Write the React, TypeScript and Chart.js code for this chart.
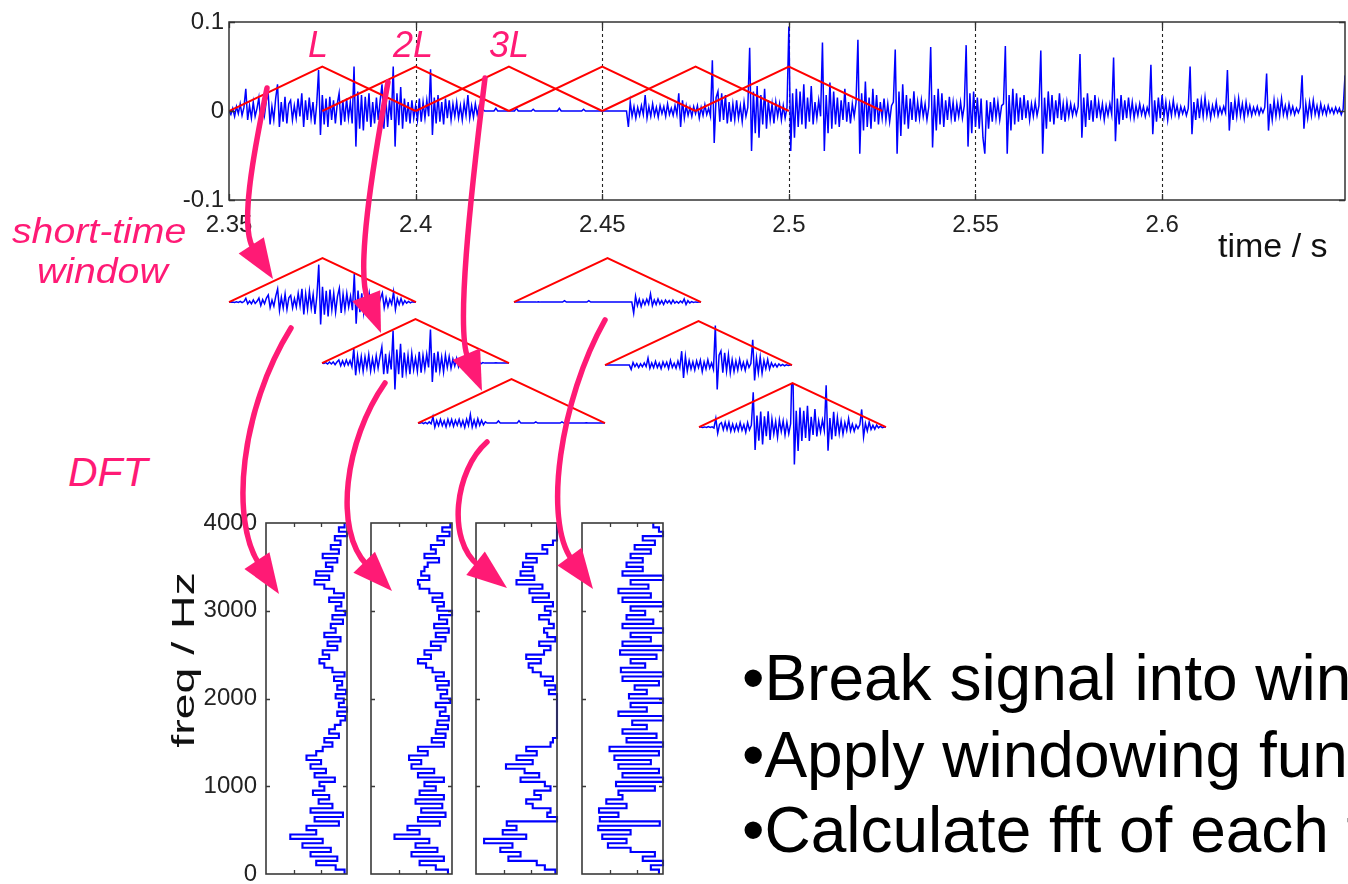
import React, { useEffect, useRef } from 'react';
import { Chart, registerables } from 'chart.js';

Chart.register(...registerables);

const FONT = '"Liberation Sans", Arial, Helvetica, sans-serif';
const BLUE = '#0000ff';
const RED = '#ff0000';
const PINK = '#ff1a75';

// ---------------- data ----------------
const SAMPLE_STEP = 0.0005; // s
// waveform, in thousandths of full scale, three stretches
const voicedStart = 2.35;
const voicedMilli = [
  0, -4, 3, -6, 5, -3, 8, -5, 4, 25,
  -10, 6, -8, 10, -6, 3, 15, -12, 8, -5,
  12, 20, -15, 5, -10, 14, 30, -18, 10, -12,
  16, -14, 8, 12, -10, 6, -8, 14, -6, 20,
  -18, 12, -10, 15, -8, 10, -15, 8, 46, -27,
  18, -15, 14, -18, 16, -10, 12, -14, 8, 20,
  -16, 12, -12, 14, -8, 10, -14, 50, -40, 22,
  -20, 18, -22, 16, -12, 20, -18, 10, -14, 15,
  -10, 12, 30, -20, 16, -18, 12, -10, 50, -40,
  20, -16, 27, -20, 14, -12, 10, -14, 12, -8,
  6, -10, 14, -12, 10, -8, 12, -6, 47, -27,
  15, -14, 18, -12, 10, -15, 14, -8, 12, -10,
  8, -6, 10, -8, 6, -10, 9, -5, 18, -8,
  6, -7, 8, -4, 5, -3, 2,
];
const silenceStart = 2.4185;
const silenceMilli = [
  0, 0, 0, 0, 0, 0, 3, 0, 0, 0,
  0, 0, 0, 0, 0, 0, 0, 3, 0, 0,
  0, 0, 0, 0, 0, 0, 2, 0, 0, 0,
  0, 0, 0, 0, 0, 0, 0, 0, 0, 0,
  3, 0, 0, 0, 0, 0, 0, 0, 0, 0,
  0, 0, 0, 2, 0, 0, 0, 0, 0, 0,
  0, 0, 0, 0, 0, 0, 0, 0, 0, 0,
  0, 0, 0, 0, 0, 0,
];
const vowelStart = 2.4565;
const vowelMilli = [
  0, -18, 10, -6, 5, -8, 4, -5, 6, -4,
  18, -8, 5, -6, 8, -5, 4, -7, 6, -3,
  5, -6, 8, -4, 3, -5, 6, -4, 20, -18,
  12, -8, 6, -5, 4, -6, 5, -3, 6, -8,
  4, -5, 7, -4, 3, -6, 57, -36, 15, 22,
  -12, 20, -10, 18, -14, 10, -12, 8, -10, 12,
  -8, 6, -12, 10, -6, 4, 71, -45, 22, -25,
  28, -30, 18, -15, 25, -20, 12, -10, 8, -14,
  10, -6, 8, -10, 6, -8, 4, 95, -45, 20,
  -30, 25, -18, 22, -15, 30, -20, 15, -12, 28,
  -15, 10, -8, 12, -6, 77, -45, 18, -25, 32,
  -20, 22, -15, 15, -18, 12, -10, 25, -12, 10,
  -14, 8, -6, 10, 80, -48, 20, -22, 33, -18,
  15, -20, 25, -12, 18, -15, 10, -8, 14, -10,
  8, -12, 6, 10, 69, -48, 22, -28, 30, -15,
  18, -20, 14, -10, 22, -12, 10, -8, 12, -6,
  8, -10, 5, 72, -41, 18, -22, 25, -15, 20,
  -18, 12, -10, 16, -8, 10, -12, 8, -6, 10,
  -8, 6, 74, -40, 20, -25, 22, -18, 15, -20,
  14, -30, -48, 12, -20, 10, -12, 15, -8, 10,
  -10, 6, 8, 73, -48, 18, -22, 25, -15, 20,
  -12, 15, -10, 18, -8, 12, -10, 8, -6, 10,
  -5, 6, 68, -48, 15, -20, 22, -12, 18, -15,
  12, -8, 20, -10, 8, -12, 10, -6, 8, -5,
  6, -4, 5, 64, -30, 15, -18, 20, -10, 12,
  -12, 18, -8, 10, -6, 8, -10, 6, -5, 8,
  -4, 60, -34, 14, -15, 18, -10, 12, -8, 15,
  -6, 10, -8, 6, -5, 8, -4, 5, -6, 4,
  -3, 52, -26, 12, -12, 15, -8, 18, -6, 10,
  -10, 8, -5, 12, -4, 6, -6, 5, -3, 4,
  -5, 3, 50, -26, 10, -10, 14, -8, 12, -6,
  15, -5, 8, -8, 6, -4, 10, -5, 4, -3,
  5, -2, 46, -22, 10, -10, 12, -6, 14, -5,
  8, -8, 10, -4, 6, -5, 4, -3, 5, -4,
  3, -2, 4, 42, -22, 8, -10, 12, -6, 10,
  -5, 14, -4, 6, -6, 8, -3, 5, -4, 3,
  -2, 4, 40, -20, 8, -8, 10, -5, 12, -4,
  6, -6, 8, -3, 5, -4, 6, -2, 3, -3,
  4, -2, 3, -4, 2, 40, -15, 5,
];

// short-time windows (triangular), starts in s
const windowStarts = [2.35, 2.375, 2.4, 2.425, 2.45, 2.475];
const windowLength = 0.05;
const windowLabels = ['L', '2L', '3L'];
const windowPeakTop = 0.05;
const windowPeakSegment = 0.052;

// axis ticks
const timeTicks = [2.35, 2.4, 2.45, 2.5, 2.55, 2.6];
const timeTickLabels = ['2.35', '2.4', '2.45', '2.5', '2.55', '2.6'];
const ampTicks = [-0.1, 0, 0.1];
const ampTickLabels = ['-0.1', '0', '0.1'];
const freqTicks = [0, 1000, 2000, 3000, 4000];
const freqTickLabels = ['0', '1000', '2000', '3000', '4000'];
const magnitudeTicks = [0.35, 0.68];

// DFT magnitude (normalised, 0 = left edge, 1 = right edge), 50 Hz bins from 0 Hz
const binWidthHz = 50;
const spectrum1 = [
  0.97, 0.86, 0.62, 0.88, 0.55, 0.8, 0.45, 0.7, 0.3, 0.62,
  0.5, 0.9, 0.6, 0.95, 0.55, 0.82, 0.65, 0.78, 0.58, 0.72,
  0.66, 0.85, 0.6, 0.74, 0.55, 0.68, 0.5, 0.62, 0.7, 0.82,
  0.72, 0.9, 0.78, 0.85, 0.92, 0.98, 0.88, 1.0, 0.9, 0.96,
  0.86, 0.99, 0.88, 0.94, 0.84, 0.97, 0.82, 0.72, 0.66, 0.78,
  0.7, 0.88, 0.76, 0.92, 0.72, 0.86, 0.8, 0.95, 0.82, 0.98,
  0.86, 0.93, 0.78, 0.96, 0.84, 0.72, 0.6, 0.78, 0.62, 0.82,
  0.74, 0.88, 0.7, 0.9, 0.8, 0.92, 0.85, 1.0, 0.9, 0.97,
];
const spectrum2 = [
  0.95, 0.8, 0.6, 0.9, 0.5, 0.82, 0.55, 0.72, 0.29, 0.6,
  0.45, 0.85, 0.58, 0.92, 0.62, 0.88, 0.55, 0.9, 0.6, 0.8,
  0.66, 0.9, 0.58, 0.78, 0.5, 0.62, 0.47, 0.7, 0.58, 0.9,
  0.75, 0.92, 0.8, 0.95, 0.82, 0.96, 0.85, 0.92, 0.8, 0.98,
  0.86, 0.94, 0.82, 0.96, 0.8, 0.9, 0.76, 0.68, 0.58, 0.74,
  0.66, 0.86, 0.74, 0.92, 0.8, 0.96, 0.78, 0.94, 0.84, 1.0,
  0.82, 0.9, 0.76, 0.88, 0.72, 0.6, 0.58, 0.72, 0.62, 0.66,
  0.7, 0.84, 0.66, 0.8, 0.74, 0.9, 0.82, 0.97, 0.88, 0.98,
];
const spectrum3 = [
  0.98, 0.85, 0.75, 0.4, 0.55, 0.3, 0.45, 0.1, 0.62, 0.33,
  0.5, 0.38, 1.0, 0.88, 0.92, 0.7, 0.62, 0.8, 0.72, 0.92,
  0.85, 0.55, 0.78, 0.6, 0.37, 0.7, 0.5, 0.75, 0.62, 0.92,
  0.95, 1.0, 1.0, 1.0, 1.0, 1.0, 1.0, 1.0, 1.0, 1.0,
  1.0, 0.9, 0.98, 0.85, 0.95, 0.8, 0.7, 0.65, 0.8, 0.62,
  0.84, 0.92, 0.78, 0.98, 0.88, 0.84, 0.96, 0.9, 0.78, 0.92,
  0.85, 0.95, 0.7, 0.9, 0.66, 0.82, 0.5, 0.72, 0.55, 0.7,
  0.58, 0.75, 0.62, 0.88, 0.82, 0.95, 1.0, 1.0, 1.0, 1.0,
];
const spectrum4 = [
  0.95, 0.85, 1.0, 0.75, 0.9, 0.6, 0.32, 0.55, 0.25, 0.6,
  0.2, 0.96, 0.22, 0.45, 0.21, 0.55, 0.3, 0.5, 0.45, 0.9,
  0.42, 1.0, 0.5, 0.95, 0.45, 0.85, 0.4, 0.95, 0.34, 1.0,
  0.55, 0.92, 0.5, 0.8, 0.62, 1.0, 0.45, 0.8, 0.6, 1.0,
  0.58, 0.8, 0.65, 0.95, 0.5, 1.0, 0.48, 0.78, 0.6, 0.92,
  0.47, 1.0, 0.5, 0.85, 0.6, 1.0, 0.5, 0.88, 0.55, 0.78,
  0.6, 1.0, 0.5, 0.85, 0.45, 0.82, 0.6, 1.0, 0.5, 0.75,
  0.55, 0.75, 0.6, 0.85, 0.65, 0.9, 0.75, 1.0, 0.95, 0.88,
];
const spectra = [spectrum1, spectrum2, spectrum3, spectrum4];

const bulletLines = [
  '\u2022Break signal into windows',
  '\u2022Apply windowing function',
  '\u2022Calculate fft of each frame',
];

// ---------------- derived ----------------
type P = { x: number; y: number };
const toPoints = (start: number, milli: number[]): P[] =>
  milli.map((m, k) => ({ x: start + k * SAMPLE_STEP, y: m / 1000 }));
const signal: P[] = [
  ...toPoints(voicedStart, voicedMilli),
  ...toPoints(silenceStart, silenceMilli),
  ...toPoints(vowelStart, vowelMilli),
];
const triangle = (s: number, peak: number): P[] => [
  { x: s, y: 0 },
  { x: s + windowLength / 2, y: peak },
  { x: s + windowLength, y: 0 },
];
const windowed = (s: number): P[] => {
  const c = s + windowLength / 2;
  return signal
    .filter((p) => p.x >= s - 1e-9 && p.x <= s + windowLength + 1e-9)
    .map((p) => ({ x: p.x, y: p.y * Math.max(0, 1 - Math.abs(p.x - c) / (windowLength / 2)) }));
};
const spectrumPoints = (vals: number[]): P[] => [
  ...vals.map((v, k) => ({ x: v, y: k * binWidthHz })),
  { x: vals[vals.length - 1], y: vals.length * binWidthHz },
];

// ---------------- plugin ----------------
type FrameCfg = {
  color: string;
  lineWidth: number;
  tickLen: number;
  xTicks: number[];
  yTicks: number[];
  gridX?: number[];
};
const makeFrame = (cfg: FrameCfg) => ({
  id: 'frame',
  beforeDatasetsDraw(chart: any) {
    if (!cfg.gridX) return;
    const { ctx, chartArea: a, scales } = chart;
    ctx.save();
    ctx.strokeStyle = '#222';
    ctx.lineWidth = 1.1;
    ctx.setLineDash([3, 3]);
    for (const v of cfg.gridX) {
      const x = Math.round(scales.x.getPixelForValue(v)) + 0.5;
      ctx.beginPath();
      ctx.moveTo(x, a.top);
      ctx.lineTo(x, a.bottom);
      ctx.stroke();
    }
    ctx.restore();
  },
  afterDatasetsDraw(chart: any) {
    const { ctx, chartArea: a, scales } = chart;
    ctx.save();
    ctx.strokeStyle = cfg.color;
    ctx.beginPath();
    const t = cfg.tickLen;
    for (const v of cfg.xTicks) {
      const x = Math.round(scales.x.getPixelForValue(v)) + 0.5;
      ctx.moveTo(x, a.bottom);
      ctx.lineTo(x, a.bottom - t);
      ctx.moveTo(x, a.top);
      ctx.lineTo(x, a.top + t);
    }
    for (const v of cfg.yTicks) {
      const y = Math.round(scales.y.getPixelForValue(v)) + 0.5;
      ctx.moveTo(a.left, y);
      ctx.lineTo(a.left + t, y);
      ctx.moveTo(a.right, y);
      ctx.lineTo(a.right - t, y);
    }
    ctx.lineWidth = 1.3;
    ctx.stroke();
    ctx.lineWidth = cfg.lineWidth;
    ctx.strokeRect(a.left, a.top, a.right - a.left, a.bottom - a.top);
    ctx.restore();
  },
});

const setTicks = (vals: number[]) => (scale: any) => {
  scale.ticks = vals.map((v) => ({ value: v }));
};

// ---------------- chart configs ----------------
const topConfig = (): any => ({
  type: 'line',
  data: {
    datasets: [
      {
        data: signal,
        borderColor: BLUE,
        borderWidth: 1.5,
        pointRadius: 0,
        tension: 0,
        order: 2,
      },
      ...windowStarts.map((s) => ({
        data: triangle(s, windowPeakTop),
        borderColor: RED,
        borderWidth: 2,
        pointRadius: 0,
        tension: 0,
        order: 1,
      })),
    ],
  },
  options: {
    animation: false,
    responsive: false,
    layout: { padding: { top: 22, right: 3, left: 0, bottom: 0 } },
    plugins: { legend: { display: false }, tooltip: { enabled: false } },
    scales: {
      x: {
        type: 'linear',
        min: 2.35,
        max: 2.649,
        afterBuildTicks: setTicks(timeTicks),
        afterFit: (s: any) => {
          s.height = 60;
        },
        grid: { display: false, drawTicks: false },
        border: { display: false },
        ticks: {
          autoSkip: false,
          maxRotation: 0,
          padding: 11,
          color: '#222',
          font: { family: FONT, size: 24 },
          callback: (_v: any, i: number) => timeTickLabels[i],
        },
      },
      y: {
        type: 'linear',
        min: -0.1,
        max: 0.1,
        afterBuildTicks: setTicks(ampTicks),
        afterFit: (s: any) => {
          s.width = 229;
        },
        grid: { display: false, drawTicks: false },
        border: { display: false },
        ticks: {
          padding: 5,
          color: '#222',
          font: { family: FONT, size: 24 },
          callback: (_v: any, i: number) => ampTickLabels[i],
        },
      },
    },
  },
  plugins: [
    makeFrame({
      color: '#333',
      lineWidth: 1.5,
      tickLen: 6,
      xTicks: timeTicks,
      yTicks: ampTicks,
      gridX: timeTicks.slice(1),
    }),
  ],
});

const SEG_PAD = 3;
const segmentConfig = (s: number): any => ({
  type: 'line',
  data: {
    datasets: [
      {
        data: windowed(s),
        borderColor: BLUE,
        borderWidth: 1.5,
        pointRadius: 0,
        tension: 0,
        clip: 0,
        order: 2,
      },
      {
        data: triangle(s, windowPeakSegment),
        borderColor: RED,
        borderWidth: 2,
        pointRadius: 0,
        tension: 0,
        clip: 4,
        order: 1,
      },
    ],
  },
  options: {
    animation: false,
    responsive: false,
    layout: { padding: SEG_PAD },
    plugins: { legend: { display: false }, tooltip: { enabled: false } },
    scales: {
      x: { type: 'linear', display: false, min: s, max: s + windowLength },
      y: { type: 'linear', display: false, min: -0.06, max: windowPeakSegment },
    },
  },
});

const PANEL_LABEL_W = 80;
const PANEL_PAD = 14;
const panelConfig = (vals: number[], withLabels: boolean): any => ({
  type: 'line',
  data: {
    datasets: [
      {
        data: spectrumPoints(vals),
        borderColor: BLUE,
        borderWidth: 2.1,
        pointRadius: 0,
        tension: 0,
        stepped: 'after',
        clip: 3,
      },
    ],
  },
  options: {
    animation: false,
    responsive: false,
    layout: { padding: { top: PANEL_PAD, bottom: PANEL_PAD, right: 4, left: withLabels ? 0 : 4 } },
    plugins: { legend: { display: false }, tooltip: { enabled: false } },
    scales: {
      x: { type: 'linear', display: false, min: 0, max: 1 },
      y: {
        type: 'linear',
        display: withLabels,
        min: 0,
        max: 4000,
        afterBuildTicks: setTicks(freqTicks),
        afterFit: (sc: any) => {
          if (!withLabels) return;
          sc.width = PANEL_LABEL_W;
          sc.paddingTop = 0;
          sc.paddingBottom = 0;
        },
        grid: { display: false, drawTicks: false },
        border: { display: false },
        ticks: {
          padding: 9,
          color: '#222',
          font: { family: FONT, size: 24 },
          callback: (_v: any, i: number) => freqTickLabels[i],
        },
      },
    },
  },
  plugins: [
    makeFrame({
      color: '#3a3a3a',
      lineWidth: 1.6,
      tickLen: 4,
      xTicks: magnitudeTicks,
      yTicks: freqTicks.slice(1, -1),
    }),
  ],
});

// ---------------- layout ----------------
const segmentBoxes = [
  { left: 229, base: 302 },
  { left: 322, base: 363 },
  { left: 418, base: 423 },
  { left: 514, base: 302 },
  { left: 605, base: 365 },
  { left: 699, base: 427 },
];
const panelLefts = [266, 371, 476, 582];
const PANEL_W = 81;
const PANEL_TOP = 523;
const PANEL_H = 351;

type Pt = [number, number];
const arrows: { p0: Pt; c1: Pt; c2: Pt; tip: Pt }[] = [
  { p0: [267, 88], c1: [252, 160], c2: [240, 228], tip: [273, 279] },
  { p0: [388, 82], c1: [372, 170], c2: [356, 270], tip: [381, 333] },
  { p0: [485, 78], c1: [470, 200], c2: [456, 330], tip: [482, 391] },
  { p0: [291, 328], c1: [240, 410], c2: [230, 520], tip: [279, 594] },
  { p0: [385, 383], c1: [345, 440], c2: [333, 530], tip: [392, 591] },
  { p0: [487, 442], c1: [455, 470], c2: [446, 540], tip: [507, 588] },
  { p0: [605, 320], c1: [560, 400], c2: [543, 520], tip: [593, 589] },
];

function ChartCanvas(props: { left: number; top: number; width: number; height: number; make: () => any }) {
  const ref = useRef<HTMLCanvasElement | null>(null);
  useEffect(() => {
    if (!ref.current) return;
    const chart = new Chart(ref.current, props.make());
    return () => chart.destroy();
  }, []);
  return (
    <canvas
      ref={ref}
      width={props.width}
      height={props.height}
      style={{ position: 'absolute', left: props.left, top: props.top, width: props.width, height: props.height }}
    />
  );
}

function Txt(props: {
  x: number;
  baseline: number;
  size: number;
  color?: string;
  italic?: boolean;
  scaleX?: number;
  children: React.ReactNode;
}) {
  const { x, baseline, size } = props;
  return (
    <div
      style={{
        position: 'absolute',
        left: x,
        top: baseline - 0.8465 * size,
        fontFamily: FONT,
        fontSize: size,
        lineHeight: `${size}px`,
        fontStyle: props.italic ? 'italic' : 'normal',
        color: props.color || '#000',
        whiteSpace: 'nowrap',
        transform: props.scaleX ? `scaleX(${props.scaleX})` : undefined,
        transformOrigin: 'left top',
      }}
    >
      {props.children}
    </div>
  );
}

function Arrows() {
  const HEAD = 40;
  const HW = 15;
  return (
    <svg width={1348} height={884} style={{ position: 'absolute', left: 0, top: 0, pointerEvents: 'none' }}>
      {arrows.map((a, i) => {
        const dx = a.tip[0] - a.c2[0];
        const dy = a.tip[1] - a.c2[1];
        const len = Math.hypot(dx, dy);
        const ux = dx / len;
        const uy = dy / len;
        const bx = a.tip[0] - ux * HEAD;
        const by = a.tip[1] - uy * HEAD;
        const nx = -uy;
        const ny = ux;
        const d = `M${a.p0[0]},${a.p0[1]} C${a.c1[0]},${a.c1[1]} ${a.c2[0]},${a.c2[1]} ${bx + ux * 4},${by + uy * 4}`;
        const head = `${a.tip[0]},${a.tip[1]} ${bx + nx * HW},${by + ny * HW} ${bx - nx * HW},${by - ny * HW}`;
        return (
          <g key={i}>
            <path d={d} fill="none" stroke={PINK} strokeWidth={5.5} strokeLinecap="round" />
            <polygon points={head} fill={PINK} />
          </g>
        );
      })}
    </svg>
  );
}

export default function App() {
  return (
    <div
      style={{
        position: 'absolute',
        left: 0,
        top: 0,
        width: 1348,
        height: 884,
        overflow: 'hidden',
        background: '#fff',
        fontFamily: FONT,
      }}
    >
      <ChartCanvas left={0} top={0} width={1348} height={260} make={topConfig} />
      {segmentBoxes.map((b, i) => (
        <ChartCanvas
          key={'s' + i}
          left={b.left - SEG_PAD}
          top={b.base - 44 - SEG_PAD}
          width={187 + 2 * SEG_PAD}
          height={95 + 2 * SEG_PAD}
          make={() => segmentConfig(windowStarts[i])}
        />
      ))}
      {panelLefts.map((l, i) => (
        <ChartCanvas
          key={'p' + i}
          left={i === 0 ? l - PANEL_LABEL_W : l - 4}
          top={PANEL_TOP - PANEL_PAD}
          width={(i === 0 ? PANEL_LABEL_W : 4) + PANEL_W + 4}
          height={PANEL_H + 2 * PANEL_PAD}
          make={() => panelConfig(spectra[i], i === 0)}
        />
      ))}

      <Txt x={308} baseline={57} size={36} italic color={PINK}>{windowLabels[0]}</Txt>
      <Txt x={393} baseline={57} size={36} italic color={PINK}>{windowLabels[1]}</Txt>
      <Txt x={489} baseline={57} size={36} italic color={PINK}>{windowLabels[2]}</Txt>

      <Txt x={1218} baseline={257} size={34} color="#111">time / s</Txt>

      <Txt x={12} baseline={243} size={35} italic color={PINK} scaleX={1.12}>short-time</Txt>
      <Txt x={37} baseline={283} size={35} italic color={PINK} scaleX={1.12}>window</Txt>
      <Txt x={68} baseline={487} size={41} italic color={PINK}>DFT</Txt>

      <div
        style={{
          position: 'absolute',
          left: 183,
          top: 660,
          transform: 'translate(-50%, -50%) rotate(-90deg) scaleX(1.45)',
          fontFamily: FONT,
          fontSize: 32,
          lineHeight: '32px',
          color: '#111',
          whiteSpace: 'nowrap',
        }}
      >
        freq / Hz
      </div>

      <Txt x={742} baseline={700} size={64}>{bulletLines[0]}</Txt>
      <Txt x={742} baseline={777} size={64}>{bulletLines[1]}</Txt>
      <Txt x={742} baseline={852} size={64}>{bulletLines[2]}</Txt>

      <Arrows />
    </div>
  );
}
